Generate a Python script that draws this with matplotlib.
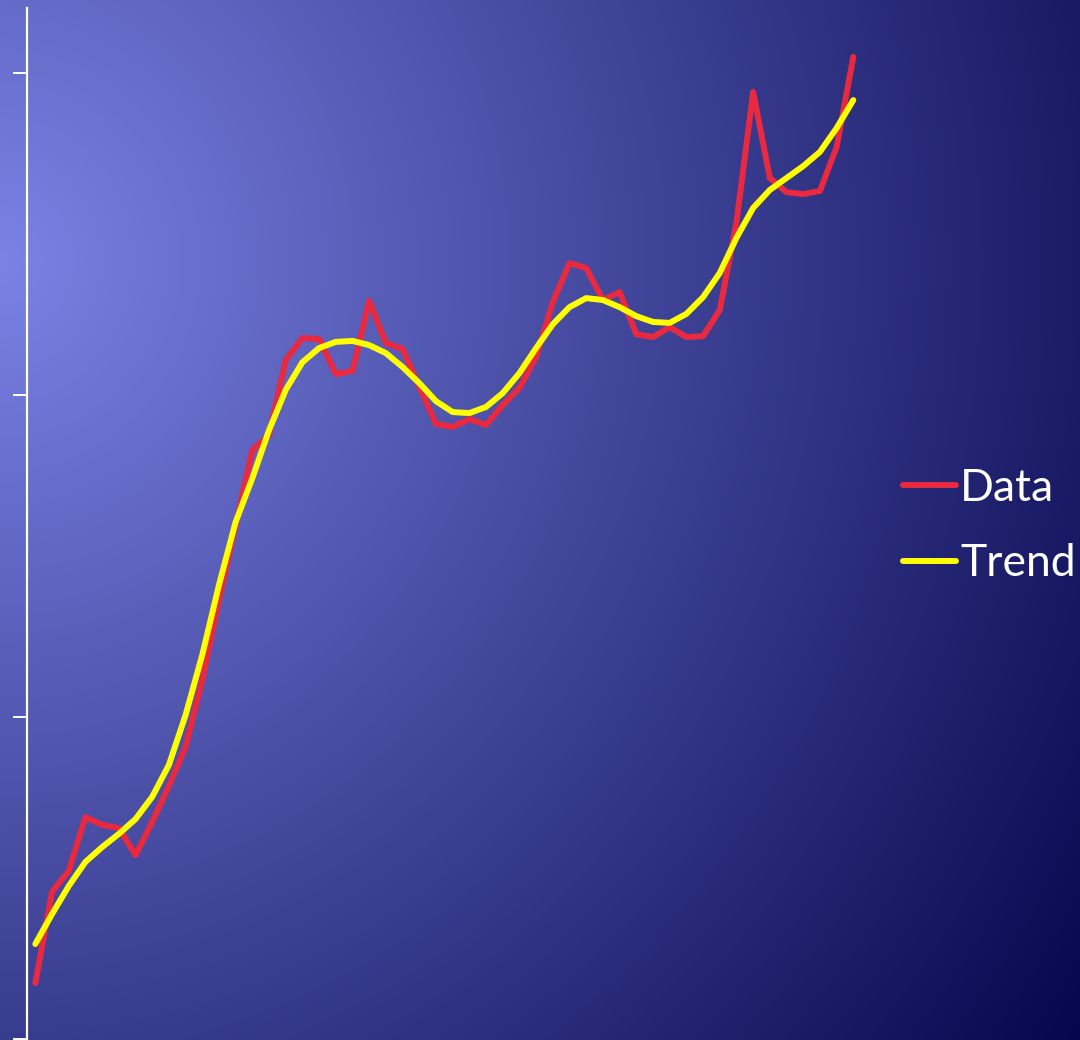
import matplotlib
matplotlib.use("Agg")
import matplotlib.pyplot as plt
import numpy as np

# series values
data = [1.74, 4.57, 5.22, 6.89, 6.65, 6.55, 5.71, 6.74, 7.86, 9.07,
        11.15, 13.63, 15.96, 18.29, 18.76, 21.09, 21.77, 21.74, 20.65, 20.75,
        22.92, 21.61, 21.43, 20.25, 19.10, 19.01, 19.25, 19.07, 19.69, 20.22,
        21.18, 22.89, 24.10, 23.94, 22.95, 23.20, 21.89, 21.80, 22.11, 21.80,
        21.83, 22.64, 25.37, 29.41, 26.74, 26.30, 26.24, 26.34, 27.70, 30.50]
trend = [2.95, 3.88, 4.75, 5.50, 5.96, 6.37, 6.83, 7.52, 8.51, 10.06,
         11.93, 14.10, 16.06, 17.42, 18.91, 20.16, 21.02, 21.46, 21.65, 21.68,
         21.55, 21.30, 20.87, 20.37, 19.81, 19.47, 19.44, 19.63, 20.06, 20.68,
         21.46, 22.20, 22.73, 23.01, 22.95, 22.73, 22.45, 22.27, 22.24, 22.52,
         23.04, 23.79, 24.88, 25.81, 26.37, 26.74, 27.11, 27.55, 28.29, 29.16]
x = list(range(len(data)))
yticks = [0, 10, 20, 30]

W, H = 1080, 1040
fig = plt.figure(figsize=(W / 100, H / 100), dpi=100)

# radial background, light near the left edge, dark navy towards the corners
yy, xx = np.mgrid[0:H, 0:W]
t = np.clip(np.hypot(xx - 0, (yy - 260) * 0.95) / 1320.0, 0, 1)[..., None]
c0 = np.array([122, 130, 228]) / 255.0
c1 = np.array([5, 5, 75]) / 255.0
bg = c0 * (1 - t) + c1 * t
bax = fig.add_axes([0, 0, 1, 1], zorder=0)
bax.imshow(bg, aspect="auto", extent=(0, 1, 0, 1))
bax.axis("off")

ax = fig.add_axes([27 / W, 1 / H, 843 / W, 1031 / H], zorder=1)
ax.patch.set_alpha(0)

ax.plot(x, data, color="#E8293F", lw=4.3, solid_capstyle="round",
        solid_joinstyle="round", label="Data")
ax.plot(x, trend, color="#FFFF00", lw=4.3, solid_capstyle="round",
        solid_joinstyle="round", label="Trend")

ax.set_xlim(-0.5, 50)
ax.set_ylim(0, 32.02)
ax.set_yticks(yticks)
ax.set_yticklabels([])
ax.set_xticks([])
for side in ["top", "right", "bottom"]:
    ax.spines[side].set_visible(False)
ax.spines["left"].set_color("white")
ax.spines["left"].set_linewidth(1.6)
ax.tick_params(axis="y", direction="out", length=10, width=1.4, colors="white")

leg = fig.legend(loc="center left", bbox_to_anchor=(903 / W, 1 - 526 / H),
                 frameon=False, borderpad=0, borderaxespad=0,
                 handlelength=1.2, handletextpad=0.08, labelspacing=0.78,
                 prop={"family": "Lato", "size": 32})
for text in leg.get_texts():
    text.set_color("white")

fig.savefig("out.png", dpi=100)
